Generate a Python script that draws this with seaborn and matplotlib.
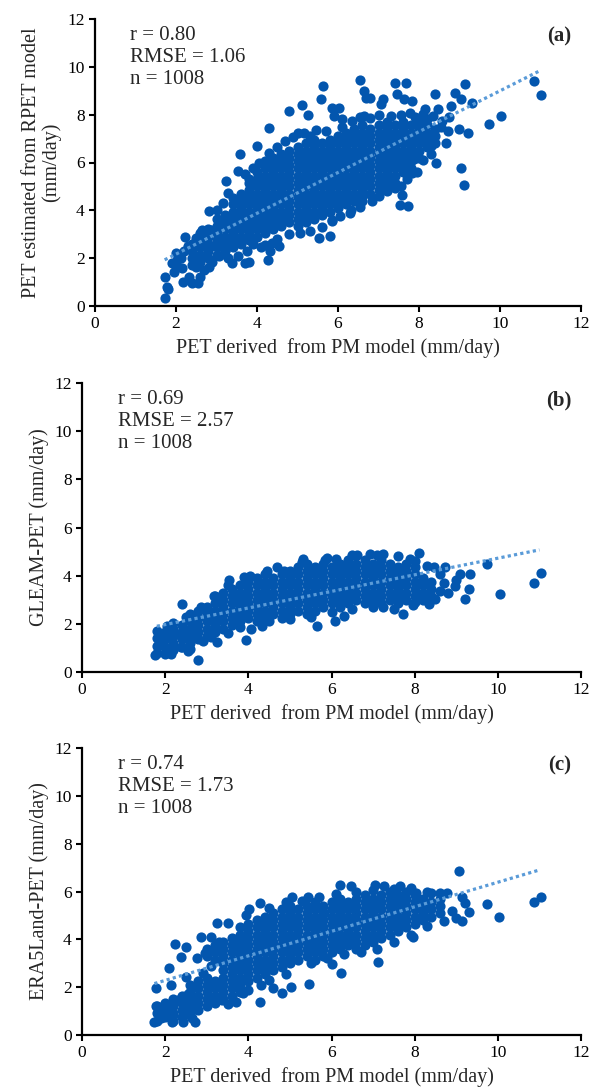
import matplotlib
matplotlib.use('Agg')
import matplotlib.pyplot as plt
import numpy as np
import pandas as pd
import seaborn as sns

DOT_COLOR = '#0356AE'
TREND_COLOR = '#5A9BD8'
X_LABEL = 'PET derived  from PM model (mm/day)'

# ---- panel (a): RPET vs PM ----
A_STATS = ['r = 0.80', 'RMSE = 1.06', 'n = 1008']
A_YLABEL = 'PET estimated from RPET model\n(mm/day)'
A_TREND_X = [1.72, 11.0]
A_TREND_Y = [1.93, 9.85]
# dense core, read column by column (x, then the y values seen in that column)
A_CORE_X = [2.4, 2.6, 2.8, 3.0, 3.2, 3.4, 3.6, 3.8, 4.0, 4.2, 4.4, 4.6, 4.8, 5.0, 5.2, 5.4,
            5.6, 5.8, 6.0, 6.2, 6.4, 6.6, 6.8, 7.0, 7.2, 7.4, 7.6, 7.8, 8.0, 8.2, 8.4]
A_CORE_Y = [
    [1.7, 2.0, 2.3, 2.6],
    [1.85, 2.15, 2.45, 2.75, 3.05],
    [2.0, 2.3, 2.6, 2.9, 3.2],
    [2.15, 2.45, 2.75, 3.05, 3.35, 3.65],
    [2.3, 2.6, 2.9, 3.2, 3.5, 3.8],
    [2.45, 2.75, 3.05, 3.35, 3.65, 3.95, 4.25],
    [2.6, 2.9, 3.2, 3.5, 3.8, 4.1, 4.4, 4.7],
    [2.75, 3.05, 3.35, 3.65, 3.95, 4.25, 4.55, 4.85, 5.15],
    [2.9, 3.2, 3.5, 3.8, 4.1, 4.4, 4.7, 5.0, 5.3, 5.6],
    [3.05, 3.35, 3.65, 3.95, 4.25, 4.55, 4.85, 5.15, 5.45, 5.75, 6.05],
    [3.2, 3.5, 3.8, 4.1, 4.4, 4.7, 5.0, 5.3, 5.6, 5.9, 6.2],
    [3.35, 3.65, 3.95, 4.25, 4.55, 4.85, 5.15, 5.45, 5.75, 6.05, 6.35],
    [3.5, 3.8, 4.1, 4.4, 4.7, 5.0, 5.3, 5.6, 5.9, 6.2, 6.5],
    [3.35, 3.65, 3.95, 4.25, 4.55, 4.85, 5.15, 5.45, 5.75, 6.05, 6.35, 6.65],
    [3.5, 3.8, 4.1, 4.4, 4.7, 5.0, 5.3, 5.6, 5.9, 6.2, 6.5, 6.8],
    [3.65, 3.95, 4.25, 4.55, 4.85, 5.15, 5.45, 5.75, 6.05, 6.35, 6.65, 6.95],
    [3.8, 4.1, 4.4, 4.7, 5.0, 5.3, 5.6, 5.9, 6.2, 6.5, 6.8],
    [3.95, 4.25, 4.55, 4.85, 5.15, 5.45, 5.75, 6.05, 6.35, 6.65, 6.95],
    [4.1, 4.4, 4.7, 5.0, 5.3, 5.6, 5.9, 6.2, 6.5, 6.8, 7.1],
    [4.25, 4.55, 4.85, 5.15, 5.45, 5.75, 6.05, 6.35, 6.65, 6.95, 7.25],
    [4.4, 4.7, 5.0, 5.3, 5.6, 5.9, 6.2, 6.5, 6.8, 7.1, 7.4],
    [4.55, 4.85, 5.15, 5.45, 5.75, 6.05, 6.35, 6.65, 6.95, 7.25, 7.55],
    [4.7, 5.0, 5.3, 5.6, 5.9, 6.2, 6.5, 6.8, 7.1, 7.4],
    [4.85, 5.15, 5.45, 5.75, 6.05, 6.35, 6.65, 6.95, 7.25, 7.55],
    [5.0, 5.3, 5.6, 5.9, 6.2, 6.5, 6.8, 7.1, 7.4, 7.7],
    [5.15, 5.45, 5.75, 6.05, 6.35, 6.65, 6.95, 7.25, 7.55],
    [5.6, 5.9, 6.2, 6.5, 6.8, 7.1, 7.4, 7.7],
    [5.75, 6.05, 6.35, 6.65, 6.95, 7.25, 7.55],
    [6.2, 6.5, 6.8, 7.1, 7.4, 7.7],
    [6.65, 6.95, 7.25, 7.55],
    [6.8, 7.1, 7.4],
]
A_LOOSE = [
    (1.72, 0.32), (1.72, 1.2), (1.79, 0.81), (1.8, 0.7), (1.89, 1.79), (1.96, 1.44), (2.03, 1.65),
    (2.03, 1.93), (2.12, 2.0), (2.21, 2.88), (2.17, 1.02), (2.31, 1.23), (2.4, 0.95), (2.54, 0.95),
    (2.5, 1.65), (2.68, 1.5), (2.82, 1.65), (2.82, 3.96), (2.5, 2.84), (2.64, 3.19), (2.87, 3.19),
    (2.87, 2.49), (3.06, 2.07), (3.1, 3.6), (3.24, 5.22), (3.29, 4.73), (3.15, 4.3), (3.29, 2.0),
    (3.38, 1.79), (3.52, 2.07), (3.52, 5.64), (3.59, 6.34), (3.71, 1.79), (3.8, 1.86), (3.99, 6.69),
    (3.8, 5.29), (4.29, 7.45), (4.27, 1.93), (4.31, 2.28), (4.36, 2.63), (4.55, 2.49), (4.79, 8.15),
    (5.11, 8.42), (5.02, 7.24), (5.25, 8.0), (5.62, 9.2), (5.58, 8.64), (5.3, 7.1), (5.53, 2.84),
    (5.81, 2.91), (5.84, 8.29), (6.03, 8.29), (5.91, 7.94), (6.1, 7.8), (6.54, 9.44), (6.63, 8.99),
    (6.7, 8.71), (6.79, 8.71), (6.65, 7.94), (7.12, 8.64), (7.07, 8.43), (7.4, 9.34), (7.45, 8.85),
    (7.68, 9.34), (7.64, 8.64), (7.82, 8.57), (7.78, 8.08), (7.56, 5.0), (7.54, 4.24), (7.73, 4.17),
    (7.59, 4.66), (7.82, 5.57), (7.87, 6.13), (8.15, 8.22), (8.39, 8.85), (8.48, 8.22), (8.1, 8.01),
    (8.29, 6.69), (8.43, 5.99), (8.66, 6.83), (8.57, 7.73), (8.71, 7.31), (8.89, 8.92), (9.04, 8.64),
    (9.13, 9.27), (8.8, 8.36), (8.99, 7.38), (9.22, 7.24), (9.32, 8.5), (9.04, 5.78), (9.11, 5.08),
    (9.74, 7.59), (10.02, 7.94), (10.84, 9.41), (11.0, 8.81),
    (3.7, 5.5), (3.9, 5.75), (4.05, 6.0), (4.3, 6.4), (4.5, 6.65), (4.7, 6.9), (4.9, 7.05),
    (5.15, 7.25), (5.45, 7.35), (5.7, 7.3), (6.1, 7.5), (6.35, 7.75), (6.55, 7.9), (6.8, 7.85),
    (7.0, 8.0), (7.3, 7.95), (7.55, 8.0), (7.9, 7.9), (4.2, 2.55), (4.5, 2.8), (4.8, 3.0),
    (5.05, 3.05), (5.3, 3.15), (5.6, 3.3), (5.85, 3.55), (6.05, 3.75), (6.3, 3.9), (6.55, 4.15),
    (6.85, 4.4), (7.0, 4.6), (7.2, 4.8), (7.4, 4.95), (7.7, 5.3), (7.95, 5.6), (8.1, 6.1),
    (8.3, 6.35), (8.2, 7.8), (8.35, 7.95), (8.55, 7.5), (8.75, 7.9), (5.86, 3.6), (6.33, 4.0),
    (6.6, 4.4), (2.2, 2.3), (2.3, 2.5), (2.0, 2.2), (2.15, 1.6), (2.6, 1.2), (2.9, 1.85),
    (3.2, 2.35), (3.0, 4.0), (3.4, 4.5), (3.75, 2.3), (3.9, 2.6), (4.1, 2.45),
]

# ---- panel (b): GLEAM vs PM ----
B_STATS = ['r = 0.69', 'RMSE = 2.57', 'n = 1008']
B_YLABEL = 'GLEAM-PET (mm/day)'
B_TREND_X = [1.8, 11.0]
B_TREND_Y = [1.9, 5.07]
B_CORE_X = [1.8, 2.0, 2.2, 2.4, 2.6, 2.8, 3.0, 3.2, 3.4, 3.6, 3.8, 4.0, 4.2, 4.4, 4.6, 4.8, 5.0,
            5.2, 5.4, 5.6, 5.8, 6.0, 6.2, 6.4, 6.6, 6.8, 7.0, 7.2, 7.4, 7.6, 7.8, 8.0, 8.2, 8.4]
B_CORE_Y = [
    [0.8, 1.1, 1.4],
    [0.75, 1.05, 1.35, 1.65],
    [0.9, 1.2, 1.5, 1.8],
    [1.05, 1.35, 1.65, 1.95],
    [1.2, 1.5, 1.8, 2.1, 2.4],
    [1.35, 1.65, 1.95, 2.25, 2.55],
    [1.5, 1.8, 2.1, 2.4, 2.7],
    [1.65, 1.95, 2.25, 2.55, 2.85, 3.15],
    [1.8, 2.1, 2.4, 2.7, 3.0, 3.3],
    [1.95, 2.25, 2.55, 2.85, 3.15, 3.45],
    [2.1, 2.4, 2.7, 3.0, 3.3, 3.6],
    [2.25, 2.55, 2.85, 3.15, 3.45, 3.75],
    [2.1, 2.4, 2.7, 3.0, 3.3, 3.6, 3.9],
    [2.25, 2.55, 2.85, 3.15, 3.45, 3.75, 4.05],
    [2.4, 2.7, 3.0, 3.3, 3.6, 3.9],
    [2.25, 2.55, 2.85, 3.15, 3.45, 3.75, 4.05],
    [2.4, 2.7, 3.0, 3.3, 3.6, 3.9, 4.2],
    [2.55, 2.85, 3.15, 3.45, 3.75, 4.05, 4.35],
    [2.4, 2.7, 3.0, 3.3, 3.6, 3.9, 4.2, 4.5],
    [2.55, 2.85, 3.15, 3.45, 3.75, 4.05, 4.35],
    [2.7, 3.0, 3.3, 3.6, 3.9, 4.2, 4.5],
    [2.85, 3.15, 3.45, 3.75, 4.05, 4.35],
    [2.7, 3.0, 3.3, 3.6, 3.9, 4.2, 4.5],
    [2.85, 3.15, 3.45, 3.75, 4.05, 4.35, 4.65],
    [3.0, 3.3, 3.6, 3.9, 4.2, 4.5],
    [2.85, 3.15, 3.45, 3.75, 4.05, 4.35, 4.65],
    [3.0, 3.3, 3.6, 3.9, 4.2, 4.5],
    [2.85, 3.15, 3.45, 3.75, 4.05, 4.35, 4.65],
    [3.0, 3.3, 3.6, 3.9, 4.2, 4.5],
    [2.85, 3.15, 3.45, 3.75, 4.05, 4.35],
    [3.0, 3.3, 3.6, 3.9, 4.2, 4.5],
    [3.15, 3.45, 3.75, 4.05, 4.35],
    [3.0, 3.3, 3.6, 3.9],
    [3.15, 3.45, 3.75],
]
B_LOOSE = [
    (1.76, 0.71), (1.81, 1.71), (1.87, 1.22), (2.01, 0.88), (2.14, 0.74), (2.28, 1.57), (2.41, 2.82),
    (2.78, 0.49), (2.55, 0.88), (2.37, 1.02), (2.64, 1.99), (2.87, 2.68), (3.18, 3.17), (3.25, 1.25),
    (3.54, 3.8), (3.94, 1.32), (4.06, 1.78), (4.34, 1.92), (4.04, 4.0), (4.45, 4.21), (4.86, 4.21),
    (5.31, 4.7), (5.65, 1.92), (5.85, 4.63), (6.08, 2.13), (6.3, 2.34), (6.1, 4.7), (6.62, 4.84),
    (6.93, 4.91), (7.23, 4.91), (7.25, 2.68), (7.73, 2.41), (7.95, 2.78), (8.11, 4.95), (7.88, 4.7),
    (8.47, 4.35), (8.74, 4.35), (8.34, 2.82), (8.61, 3.38), (8.97, 3.59), (9.1, 4.07), (9.33, 4.07),
    (9.21, 3.03), (9.3, 3.45), (9.74, 4.49), (10.05, 3.24), (10.87, 3.69), (11.03, 4.12),
    (4.5, 2.1), (5.0, 2.2), (5.5, 2.3), (6.0, 2.5), (6.5, 2.6), (7.0, 2.7), (7.5, 2.6), (8.0, 2.9),
    (8.5, 3.05), (8.8, 3.3), (9.0, 3.8), (8.7, 3.7), (8.6, 4.05), (3.5, 3.6), (3.9, 3.95),
    (4.7, 4.35), (5.3, 4.55), (5.9, 4.75), (6.5, 4.85), (7.1, 4.85), (7.6, 4.8), (8.0, 4.6),
    (8.3, 4.4), (2.2, 2.05), (2.5, 2.3), (2.9, 1.3), (3.1, 1.45), (3.5, 1.6), (3.8, 1.85),
    (1.9, 1.45), (2.05, 1.9), (2.6, 0.95),
]

# ---- panel (c): ERA5Land vs PM ----
C_STATS = ['r = 0.74', 'RMSE = 1.73', 'n = 1008']
C_YLABEL = 'ERA5Land-PET (mm/day)'
C_TREND_X = [1.74, 11.0]
C_TREND_Y = [2.15, 6.9]
C_CORE_X = [1.8, 2.0, 2.2, 2.4, 2.6, 2.8, 3.0, 3.2, 3.4, 3.6, 3.8, 4.0, 4.2, 4.4, 4.6, 4.8, 5.0,
            5.2, 5.4, 5.6, 5.8, 6.0, 6.2, 6.4, 6.6, 6.8, 7.0, 7.2, 7.4, 7.6, 7.8, 8.0, 8.2, 8.4, 8.6]
C_CORE_Y = [
    [0.6, 0.9, 1.2],
    [0.75, 1.05, 1.35],
    [0.6, 0.9, 1.2, 1.5],
    [0.75, 1.05, 1.35, 1.65],
    [0.9, 1.2, 1.5, 1.8, 2.1],
    [1.05, 1.35, 1.65, 1.95, 2.25],
    [1.2, 1.5, 1.8, 2.1, 2.4, 3.3, 3.6],
    [1.35, 1.65, 1.95, 2.25, 3.15, 3.45, 3.75],
    [1.5, 1.8, 2.1, 2.4, 2.7, 3.0, 3.3, 3.6, 3.9],
    [1.65, 1.95, 2.25, 2.55, 2.85, 3.15, 3.45, 3.75, 4.05],
    [1.8, 2.1, 2.4, 2.7, 3.0, 3.3, 3.6, 3.9, 4.2, 4.5],
    [2.25, 2.55, 2.85, 3.15, 3.45, 3.75, 4.05, 4.35, 4.65],
    [2.4, 2.7, 3.0, 3.3, 3.6, 3.9, 4.2, 4.5, 4.8],
    [2.55, 2.85, 3.15, 3.45, 3.75, 4.05, 4.35, 4.65, 4.95],
    [2.7, 3.0, 3.3, 3.6, 3.9, 4.2, 4.5, 4.8, 5.1],
    [2.85, 3.15, 3.45, 3.75, 4.05, 4.35, 4.65, 4.95, 5.25],
    [3.0, 3.3, 3.6, 3.9, 4.2, 4.5, 4.8, 5.1, 5.4],
    [3.15, 3.45, 3.75, 4.05, 4.35, 4.65, 4.95, 5.25],
    [3.3, 3.6, 3.9, 4.2, 4.5, 4.8, 5.1, 5.4],
    [3.15, 3.45, 3.75, 4.05, 4.35, 4.65, 4.95, 5.25, 5.55],
    [3.3, 3.6, 3.9, 4.2, 4.5, 4.8, 5.1, 5.4],
    [3.45, 3.75, 4.05, 4.35, 4.65, 4.95, 5.25, 5.55],
    [3.6, 3.9, 4.2, 4.5, 4.8, 5.1, 5.4, 5.7],
    [3.75, 4.05, 4.35, 4.65, 4.95, 5.25, 5.55],
    [3.6, 3.9, 4.2, 4.5, 4.8, 5.1, 5.4, 5.7],
    [3.75, 4.05, 4.35, 4.65, 4.95, 5.25, 5.55, 5.85],
    [3.9, 4.2, 4.5, 4.8, 5.1, 5.4, 5.7],
    [4.05, 4.35, 4.65, 4.95, 5.25, 5.55, 5.85],
    [4.2, 4.5, 4.8, 5.1, 5.4, 5.7, 6.0],
    [4.35, 4.65, 4.95, 5.25, 5.55, 5.85],
    [4.5, 4.8, 5.1, 5.4, 5.7, 6.0],
    [4.65, 4.95, 5.25, 5.55, 5.85],
    [4.8, 5.1, 5.4, 5.7],
    [4.95, 5.25, 5.55],
    [5.1, 5.4, 5.7],
]
C_LOOSE = [
    (1.74, 0.56), (1.77, 1.98), (1.79, 1.21), (1.97, 0.98), (2.1, 2.79), (2.15, 2.09), (2.24, 3.81),
    (2.17, 0.56), (2.42, 0.56), (2.49, 3.67), (2.37, 3.28), (2.71, 0.56), (2.65, 0.7), (2.51, 2.44),
    (2.77, 3.21), (2.87, 4.11), (2.96, 3.42), (3.24, 4.67), (3.37, 1.46), (3.51, 4.67), (4.01, 5.26),
    (4.28, 5.54), (4.27, 1.39), (3.87, 1.74), (4.8, 1.74), (5.02, 2.02), (5.46, 2.13), (5.05, 5.79),
    (5.43, 5.79), (5.82, 5.09), (6.2, 6.28), (6.46, 6.21), (6.23, 2.58), (7.04, 6.28), (7.27, 6.21),
    (7.64, 6.21), (7.13, 3.07), (7.95, 4.11), (8.04, 5.93), (8.4, 5.93), (8.77, 5.93), (9.07, 6.86),
    (9.13, 5.79), (8.99, 4.88), (9.13, 4.78), (9.31, 5.16), (9.74, 5.48), (10.04, 4.95),
    (10.87, 5.58), (11.03, 5.75),
    (5.5, 3.0), (5.9, 3.2), (6.3, 3.4), (6.7, 3.45), (7.1, 3.6), (7.5, 3.9), (7.9, 4.2), (8.3, 4.55),
    (8.7, 4.75), (6.0, 2.95), (4.5, 2.3), (4.9, 2.55), (4.0, 1.9), (4.3, 2.1), (3.7, 1.4),
    (4.6, 1.95), (3.95, 5.0), (4.5, 5.3), (4.9, 5.55), (5.3, 5.6), (5.7, 5.75), (6.1, 5.9),
    (6.6, 6.0), (7.0, 6.05), (7.5, 6.1), (7.9, 6.15), (8.3, 6.0), (8.6, 5.95), (2.0, 1.25),
    (2.3, 1.45), (2.55, 1.7), (2.7, 2.0), (2.9, 2.6), (3.1, 2.9), (3.3, 3.9), (3.1, 4.1),
    (2.2, 0.85), (2.45, 0.85), (1.9, 0.7), (3.5, 1.3), (8.9, 5.2), (9.2, 5.5),
]


def to_frame(core_x, core_y, loose):
    rows = []
    for x, ys in zip(core_x, core_y):
        for y in ys:
            rows.append((x, y))
    rows.extend(loose)
    return pd.DataFrame(rows, columns=['pm', 'other'])


def draw_panel(ax, d, trend_x, trend_y, stats, tag, ylabel):
    sns.scatterplot(data=d, x='pm', y='other', s=54, color=DOT_COLOR, linewidth=0, ax=ax, zorder=2)
    sns.lineplot(x=trend_x, y=trend_y, color=TREND_COLOR, lw=2.3, linestyle=(0, (1, 1)), ax=ax, zorder=3)
    ax.set_xlim(0, 12)
    ax.set_ylim(0, 12)
    ax.set_xticks(range(0, 13, 2))
    ax.set_yticks(range(0, 13, 2))
    ax.tick_params(labelsize=12.5, direction='out', length=4, width=1.5, colors='black')
    for s in ['top', 'right']:
        ax.spines[s].set_visible(False)
    for s in ['left', 'bottom']:
        ax.spines[s].set_linewidth(1.6)
        ax.spines[s].set_color('black')
    ax.set_xlabel(X_LABEL, fontsize=14.5, labelpad=4)
    ax.set_ylabel(ylabel, fontsize=14.5, labelpad=4, linespacing=1.05)
    ax.text(0.072, 0.975, '\n'.join(stats), transform=ax.transAxes, ha='left', va='top', fontsize=15, linespacing=1.2)
    ax.text(0.98, 0.975, tag, transform=ax.transAxes, ha='right', va='top', fontsize=15, fontweight='bold')
    ax.grid(False)


def main():
    sns.set_style('ticks')
    plt.rcParams['font.family'] = ['Liberation Serif', 'DejaVu Serif']
    plt.rcParams['mathtext.fontset'] = 'stix'

    fig = plt.figure(figsize=(5.93, 10.9), dpi=100)
    ax_a = fig.add_axes([95/593, 1-306/1090, 486/593, 287/1090])
    ax_b = fig.add_axes([82/593, 1-672/1090, 499/593, 289/1090])
    ax_c = fig.add_axes([82/593, 1-1035/1090, 499/593, 287/1090])

    draw_panel(ax_a, to_frame(A_CORE_X, A_CORE_Y, A_LOOSE), A_TREND_X, A_TREND_Y, A_STATS, '(a)', A_YLABEL)
    draw_panel(ax_b, to_frame(B_CORE_X, B_CORE_Y, B_LOOSE), B_TREND_X, B_TREND_Y, B_STATS, '(b)', B_YLABEL)
    draw_panel(ax_c, to_frame(C_CORE_X, C_CORE_Y, C_LOOSE), C_TREND_X, C_TREND_Y, C_STATS, '(c)', C_YLABEL)

    fig.savefig('out.png', dpi=100, facecolor='white')


if __name__ == '__main__':
    main()
